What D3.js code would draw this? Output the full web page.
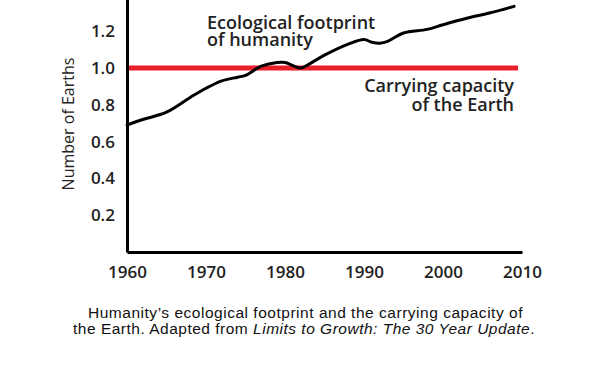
<!DOCTYPE html>
<html><head><meta charset="utf-8">
<script src="https://cdn.jsdelivr.net/npm/d3@7"></script>
<style>
body{margin:0;background:#fff;}
svg{display:block;}
</style></head>
<body><svg id="c" width="600" height="380"></svg>
<script>
const years = [1960,1962,1965,1968,1970,1972,1974,1975,1977,1979,1980,1982,1983,1985,1988,1990,1991,1992,1993,1995,1998,2000,2003,2006,2009];
const footprint = [0.69,0.72,0.76,0.84,0.89,0.93,0.95,0.96,1.01,1.03,1.03,1.00,1.02,1.07,1.13,1.155,1.14,1.135,1.145,1.19,1.21,1.235,1.27,1.30,1.335];
const capacityYears = [1960,2009.5];
const capacity = [1,1];
const xTicks = [1960,1970,1980,1990,2000,2010];
const yTicks = [0.2,0.4,0.6,0.8,1.0,1.2,1.4];

const svg = d3.select("#c");
const x = d3.scaleLinear().domain([1960,2010]).range([127,522]);
const y = d3.scaleLinear().domain([0,1.4]).range([252,252-1.4*184]);
const font = "'Open Sans', sans-serif";

// red carrying capacity
svg.append("path")
  .datum(capacityYears.map((d,i)=>[d,capacity[i]]))
  .attr("d", d3.line().x(d=>x(d[0])).y(d=>y(d[1])))
  .attr("stroke","#e8202a").attr("stroke-width",5).attr("fill","none");

// footprint
svg.append("path")
  .datum(years.map((d,i)=>[d,footprint[i]]))
  .attr("d", d3.line().x(d=>x(d[0])).y(d=>y(d[1])).curve(d3.curveCatmullRom))
  .attr("stroke","#000").attr("stroke-width",3).attr("fill","none")
  .attr("stroke-linecap","round");

// axes
const xa = svg.append("g").attr("transform",`translate(0,${y(0)})`)
  .call(d3.axisBottom(x).tickValues(xTicks).tickFormat(d3.format("d")).tickSize(0).tickPadding(14));
const ya = svg.append("g").attr("transform",`translate(${x(1960)},0)`)
  .call(d3.axisLeft(y).tickValues(yTicks).tickFormat(d3.format(".1f")).tickSize(0).tickPadding(12));
[xa,ya].forEach(g=>{
  g.select(".domain").attr("stroke","#000").attr("stroke-width",3);
  g.selectAll("text").attr("font-family",font).attr("font-weight",600).attr("font-size",17).attr("fill","#222");
});

// axis title
svg.append("text").attr("transform","translate(74,124) rotate(-90)")
  .attr("text-anchor","middle").attr("font-family",font).attr("font-size",16).attr("fill","#222")
  .text("Number of Earths");

// annotations
const ann = svg.append("g").attr("font-family",font).attr("font-weight",600).attr("font-size",18).attr("fill","#222");
const a1 = ann.append("text").attr("x",207).attr("y",29);
a1.append("tspan").attr("x",207).text("Ecological footprint");
a1.append("tspan").attr("x",207).attr("dy",17).text("of humanity");
const a2 = ann.append("text").attr("x",514).attr("y",92).attr("text-anchor","end");
a2.append("tspan").attr("x",514).text("Carrying capacity");
a2.append("tspan").attr("x",514).attr("dy",19).text("of the Earth");

// caption
const cap = svg.append("g").attr("font-family","'Liberation Sans', Arial, sans-serif").attr("font-size",15.5).attr("fill","#111").attr("text-anchor","middle");
const t1 = cap.append("text").attr("x",305.5).attr("y",318).text("Humanity\u2019s ecological footprint and the carrying capacity of");
const t2 = cap.append("text").attr("x",304).attr("y",334);
t2.append("tspan").text("the Earth. Adapted from ");
t2.append("tspan").attr("font-style","italic").text("Limits to Growth: The 30 Year Update");
t2.append("tspan").text(".");
// fit widths to reference spans
[[t1,435],[t2,462]].forEach(([t,w])=>{
  const n = t.text().length;
  const cur = t.node().getComputedTextLength();
  t.attr("letter-spacing", ((w-cur)/n).toFixed(2));
});
</script></body></html>
